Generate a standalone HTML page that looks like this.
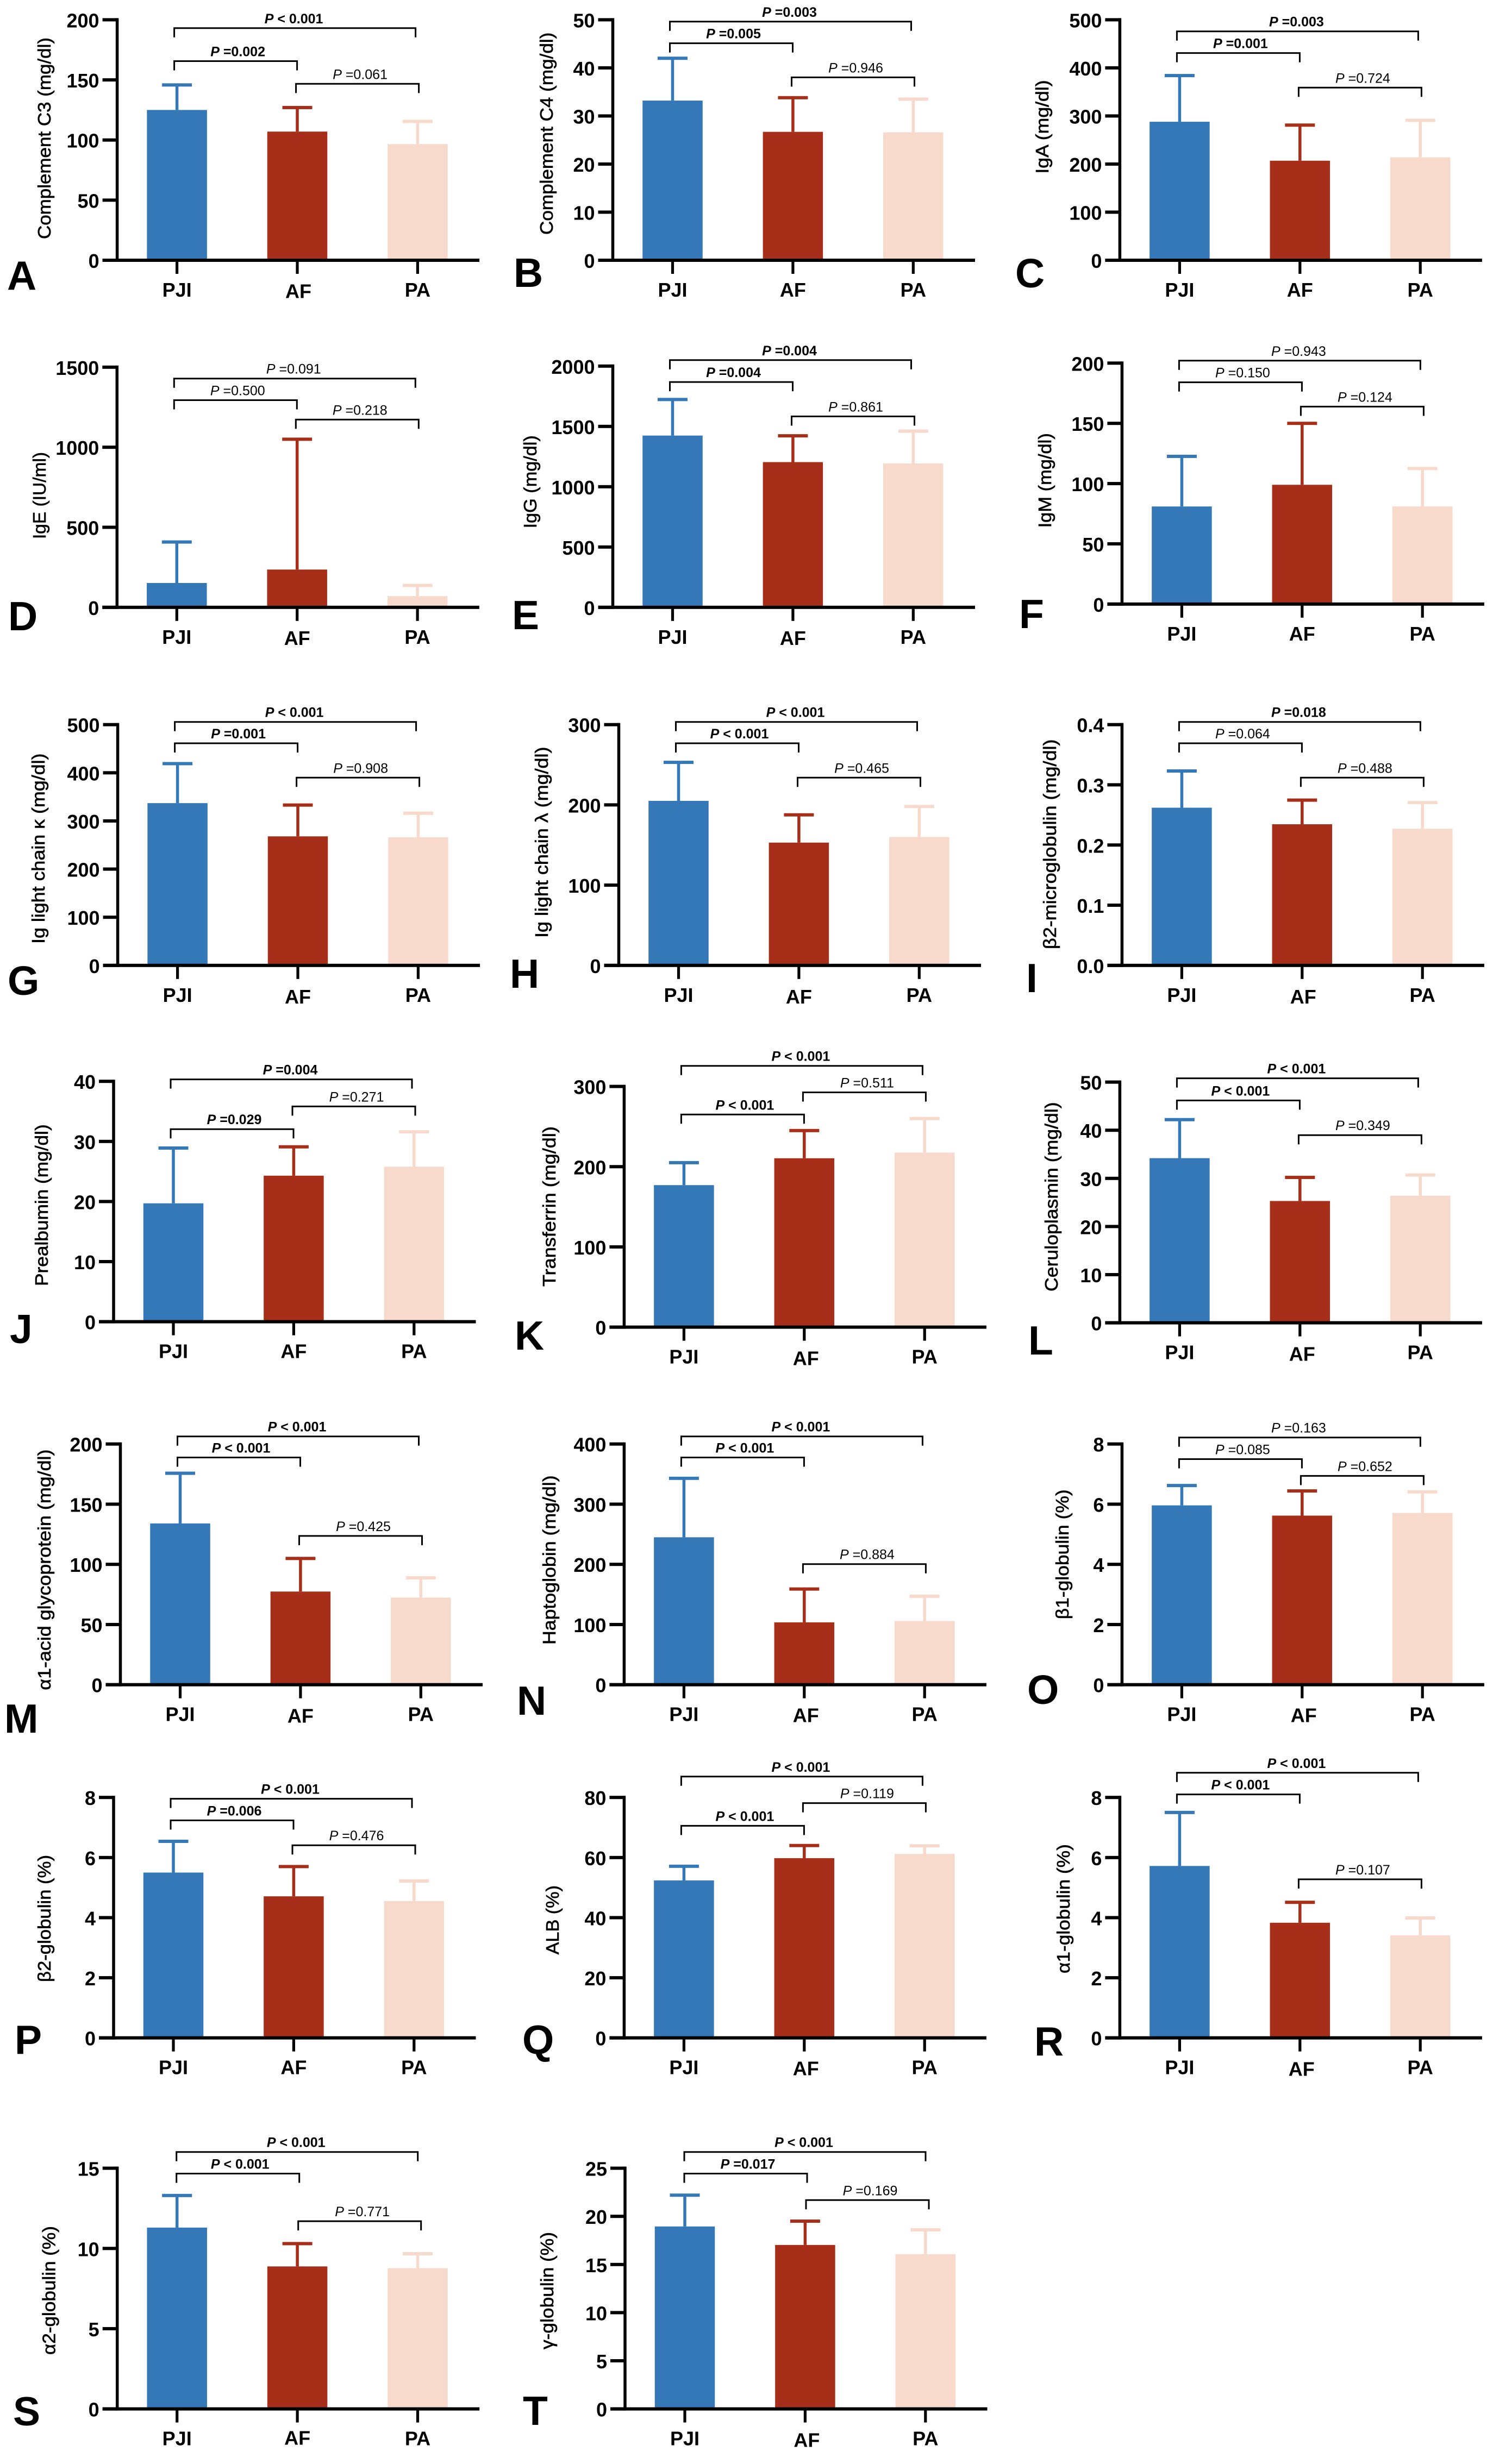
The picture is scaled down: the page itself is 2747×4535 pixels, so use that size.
<!DOCTYPE html>
<html lang="en">
<head>
<meta charset="utf-8">
<title>Serum protein bar charts, panels A to T</title>
<style>
  html, body { margin: 0; padding: 0; background: #fff; }
  svg { display: block; }
  text { font-family: "Liberation Sans", "DejaVu Sans", sans-serif; }
</style>
</head>
<body>
<svg id="figure" xmlns="http://www.w3.org/2000/svg" width="2747" height="4535" viewBox="0 0 2747 4535"></svg>
<script>
/* ---------- data ---------- */
const categories = ['PJI', 'AF', 'PA'];
const panelLetters = ['A','B','C','D','E','F','G','H','I','J','K','L','M','N','O','P','Q','R','S','T'];
const yTitles = [
  'Complement C3 (mg/dl)', 'Complement C4 (mg/dl)', 'IgA (mg/dl)',
  'IgE (IU/ml)', 'IgG (mg/dl)', 'IgM (mg/dl)',
  'Ig light chain κ (mg/dl)', 'Ig light chain λ (mg/dl)', 'β2-microglobulin (mg/dl)',
  'Prealbumin (mg/dl)', 'Transferrin (mg/dl)', 'Ceruloplasmin (mg/dl)',
  'α1-acid glycoprotein (mg/dl)', 'Haptoglobin (mg/dl)', 'β1-globulin (%)',
  'β2-globulin (%)', 'ALB (%)', 'α1-globulin (%)',
  'α2-globulin (%)', 'γ-globulin (%)'
];
const yTickLabels = [
  ['0','50','100','150','200'], ['0','10','20','30','40','50'], ['0','100','200','300','400','500'],
  ['0','500','1000','1500'], ['0','500','1000','1500','2000'], ['0','50','100','150','200'],
  ['0','100','200','300','400','500'], ['0','100','200','300'], ['0.0','0.1','0.2','0.3','0.4'],
  ['0','10','20','30','40'], ['0','100','200','300'], ['0','10','20','30','40','50'],
  ['0','50','100','150','200'], ['0','100','200','300','400'], ['0','2','4','6','8'],
  ['0','2','4','6','8'], ['0','20','40','60','80'], ['0','2','4','6','8'],
  ['0','5','10','15'], ['0','5','10','15','20','25']
];
/* bar heights, one array per group, panels A to T */
const meansPJI = [125, 33.2, 288, 152, 1424, 81, 337, 205, 0.262, 19.7, 177, 34.2, 134, 245, 5.96, 5.5, 52.4, 5.72, 11.3, 18.95];
const meansAF  = [107, 26.7, 207, 236, 1204, 99, 268, 153, 0.2345, 24.3, 210.5, 25.3, 77.4, 103.6, 5.62, 4.71, 59.8, 3.83, 8.88, 17.03];
const meansPA  = [96.6, 26.6, 214, 70, 1193, 81, 266, 160, 0.227, 25.8, 217.5, 26.4, 72.4, 105.8, 5.71, 4.55, 61.2, 3.41, 8.77, 16.07];
/* upper end of each error bar */
const upperPJI = [145.8, 42, 384, 408, 1723, 122.6, 419, 253, 0.323, 28.9, 205, 42.2, 175.7, 343, 6.62, 6.54, 57.1, 7.5, 13.3, 22.2];
const upperAF  = [127, 33.8, 281, 1050, 1422, 150, 333, 187.6, 0.2746, 29.1, 245, 30.2, 104.9, 159, 6.44, 5.7, 64, 4.51, 10.3, 19.5];
const upperPA  = [115.5, 33.5, 291, 137, 1461, 112.5, 316, 198, 0.2705, 31.6, 260, 30.7, 88.8, 147, 6.41, 5.22, 63.9, 3.99, 9.67, 18.6];
/* printed P values: PJI-PA, PJI-AF, AF-PA */
const pOverall = ['< 0.001','=0.003','=0.003','=0.091','=0.004','=0.943','< 0.001','< 0.001','=0.018','=0.004','< 0.001','< 0.001','< 0.001','< 0.001','=0.163','< 0.001','< 0.001','< 0.001','< 0.001','< 0.001'];
const pPjiAf   = ['=0.002','=0.005','=0.001','=0.500','=0.004','=0.150','=0.001','< 0.001','=0.064','=0.029','< 0.001','< 0.001','< 0.001','< 0.001','=0.085','=0.006','< 0.001','< 0.001','< 0.001','=0.017'];
const pAfPa    = ['=0.061','=0.946','=0.724','=0.218','=0.861','=0.124','=0.908','=0.465','=0.488','=0.271','=0.511','=0.349','=0.425','=0.884','=0.652','=0.476','=0.119','=0.107','=0.771','=0.169'];

/* ---------- layout (pixels, not data) ---------- */
const frames = [
  {cx:325.6, top:36.4, base:479},    {cx:1237.5, top:36.4, base:479},   {cx:2170.4, top:36.4, base:479},
  {cx:325.3, top:675.8, base:1117.8},{cx:1237.5, top:673.8, base:1117.8},{cx:2174.4, top:668.3, base:1111.8},
  {cx:326.6, top:1333.7, base:1776.8},{cx:1248.5, top:1333.7, base:1776.8},{cx:2174.4, top:1333.7, base:1776.8},
  {cx:319, top:1990.2, base:2432.6}, {cx:1258.4, top:1999.6, base:2442.6},{cx:2170.4, top:1991.6, base:2434.6},
  {cx:331.5, top:2657.7, base:3100.7},{cx:1258.4, top:2657.7, base:3100.7},{cx:2174.4, top:2657.7, base:3100.7},
  {cx:319, top:3308.2, base:3750.7}, {cx:1258.4, top:3308.2, base:3750.7},{cx:2170.4, top:3308.2, base:3750.7},
  {cx:325.7, top:3990.6, base:4433.6},{cx:1260, top:3990.6, base:4433.6}
];
/* y position of the brackets: overall, PJI-AF, AF-PA */
const bracketRows = [
  [51.8,112.5,154.3],[39.8,79.6,142.4],[57.7,97.6,161.3],
  [696.7,736.5,772.3],[662.8,703.1,766.4],[663.8,703.6,748.4],
  [1328.7,1368,1431.3],[1328.7,1368,1431.3],[1328.7,1368,1431.3],
  [1986.6,2078.2,2036.4],[1961.7,2051.3,2010.5],[1984.6,2025.4,2089.2],
  [2643.7,2682.5,2826.9],[2643.7,2682.5,2878.7],[2645.7,2685.5,2716.4],
  [3310.6,3350.4,3396.2],[3269.8,3360.4,3318.6],[3262.8,3302.6,3458.9],
  [3960.7,4000.5,4088.1],[3960.7,4000.5,4049.3]
];
/* horizontal nudge of each panel's brackets */
const bracketNudge = [0,0,0,0,0,0,0,0,0,0,0,0,0,0,0,0,0,0,4,4];
const letterSpots = [
  [13,533],[945,528],[1868,529],
  [15,1160],[942,1158],[1875,1156],
  [14,1831],[938,1818],[1888,1826],
  [18,2472],[947,2484],[1892,2493],
  [8,3189],[951,3156],[1890,3136],
  [27,3780],[961,3780],[1903,3783],
  [24,4464],[962,4463]
];
/* baseline x, top y and bottom y of each rotated axis title */
const titleSpots = [
  [93,69,440],[1017,59.7,432],[1929,147.4,319.6],
  [84,832,992],[987,801.2,972.4],[1934,797.2,971.4],
  [82,1386.5,1737],[1008,1374.5,1726],[1943,1360.6,1747],
  [88,2069.3,2367],[1022,2073.2,2368],[1946,2028.4,2377],
  [93,2667.6,3110.6],[1022,2715.4,3027],[1966,2741.3,2980.3],
  [93,3414,3648],[1028,3470,3597.4],[1968,3394.2,3632],
  [101.6,4097.1,4334],[1018,4108,4324]
];
/* small offsets of the AF label seen in the figure */
const afLabelDrop = [2.5,0,0,2,2,0,3,3,3,0,3,3,3,2,2,0,2,3,-1,3];
const afLabelShift = [2,0,0,0,0,0,0,0,2,0,3,4,0,3,3,0,3,3,0,3];

const BLUE = '#3478b8', RED = '#a72f19', PEACH = '#f7dacc';
const barColors = [BLUE, RED, PEACH];
const GROUP_STEP = 221.4, BAR_W = 110.5, CAP_W = 55, CAP_H = 6, ERR_W = 5.5, AXIS_GAP = 110;
const NS = 'http://www.w3.org/2000/svg';
const figure = document.getElementById('figure');

function make(tag, attrs, parent) {
  const el = document.createElementNS(NS, tag);
  for (const k in attrs) el.setAttribute(k, attrs[k]);
  parent.appendChild(el);
  return el;
}

/* axis functions */
function yScale(i) {
  const labels = yTickLabels[i];
  const maxV = parseFloat(labels[labels.length - 1]);
  const f = frames[i];
  return function (v) { return f.base - (v / maxV) * (f.base - f.top); };
}
function xScale(i) {
  const f = frames[i];
  return function (k) { return f.cx + k * GROUP_STEP; };
}

function drawPValue(parent, text, bold, x, y, name) {
  const t = make('text', {
    x: x, y: y, 'text-anchor': 'middle', 'font-size': 25,
    'font-weight': bold ? 'bold' : 'normal', fill: '#000'
  }, parent);
  
  
  const p = make('tspan', {'font-style': 'italic'}, t);
  p.textContent = 'P';
  const v = make('tspan', {}, t);
  v.textContent = ' ' + text;
}

function drawBracket(parent, x1, x2, y, text, dx, name) {
  const b = make('path', {
    d: 'M' + x1 + ' ' + (y + 17) + 'V' + y + 'H' + x2 + 'V' + (y + 17),
    fill: 'none', stroke: '#000', 'stroke-width': 3
  }, parent);
  
  
  const num = parseFloat(text.replace(/[^0-9.]/g, ''));
  const bold = num < 0.05;
  drawPValue(parent, text, bold, (x1 + x2) / 2 + dx, y - 9, name + '-p-value');
}

function drawPanel(i) {
  const f = frames[i];
  const ax = f.cx - AXIS_GAP;
  const letter = panelLetters[i];
  const y = yScale(i), x = xScale(i);
  const g = make('g', {}, figure);
  
  

  const means = [meansPJI[i], meansAF[i], meansPA[i]];
  const uppers = [upperPJI[i], upperAF[i], upperPA[i]];

  categories.forEach(function (cat, k) {
    const cx = x(k);
    const bar = make('rect', {
      x: cx - BAR_W / 2, y: y(means[k]), width: BAR_W, height: f.base - y(means[k]), fill: barColors[k]
    }, g);
    
    
    const stem = make('rect', {
      x: cx - ERR_W / 2, y: y(uppers[k]), width: ERR_W, height: y(means[k]) - y(uppers[k]), fill: barColors[k]
    }, g);
    
    
    const cap = make('rect', {
      x: cx - CAP_W / 2, y: y(uppers[k]) - CAP_H / 2, width: CAP_W, height: CAP_H, fill: barColors[k]
    }, g);
    
    
  });

  /* y axis */
  const yAxis = make('rect', {x: ax - 2.75, y: f.top - 3, width: 5.5, height: f.base - f.top + 6, fill: '#000'}, g);
  
  
  yTickLabels[i].forEach(function (lab) {
    const ty = y(parseFloat(lab));
    const tick = make('rect', {x: ax - 27, y: ty - 3, width: 27, height: 6, fill: '#000'}, g);
    
    
    const tl = make('text', {
      x: ax - 33, y: ty + 14, 'text-anchor': 'end', 'font-size': 36, 'font-weight': 'bold', fill: '#000'
    }, g);
    
    
    tl.textContent = lab;
  });

  /* x axis */
  const xAxis = make('rect', {x: ax - 27, y: f.base - 3, width: f.cx + 556.5 - (ax - 27), height: 6, fill: '#000'}, g);
  
  
  categories.forEach(function (cat, k) {
    const cx = x(k);
    const tick = make('rect', {x: cx - 2.6, y: f.base, width: 5.2, height: 25, fill: '#000'}, g);
    
    
    const tl = make('text', {
      x: cx + (k === 1 ? afLabelShift[i] : 0), y: f.base + 67 + (k === 1 ? afLabelDrop[i] : 0), 'text-anchor': 'middle', 'font-size': 36, 'font-weight': 'bold', fill: '#000'
    }, g);
    
    
    tl.textContent = cat;
  });

  /* axis title */
  const ts = titleSpots[i];
  const midY = (ts[1] + ts[2]) / 2;
  const title = make('text', {
    transform: 'translate(' + ts[0] + ' ' + midY + ') rotate(-90)',
    x: 0, y: 0, 'text-anchor': 'middle', 'font-size': 33, fill: '#000',
    stroke: '#000', 'stroke-width': 0.6,
    textLength: ts[2] - ts[1], lengthAdjust: 'spacingAndGlyphs'
  }, g);
  
  
  title.textContent = yTitles[i];

  /* significance brackets */
  const br = bracketRows[i];
  const n = bracketNudge[i];
  drawBracket(g, f.cx - 5 + n, f.cx + 439 + n, br[0], pOverall[i], -2, 'comparison-' + letter + '-pji-pa');
  drawBracket(g, f.cx - 5 + n, f.cx + 221 + n, br[1], pPjiAf[i], 4, 'comparison-' + letter + '-pji-af');
  drawBracket(g, f.cx + 219 + n, f.cx + 445 + n, br[2], pAfPa[i], 5, 'comparison-' + letter + '-af-pa');

  /* panel letter */
  const ls = letterSpots[i];
  const pl = make('text', {x: ls[0], y: ls[1], 'font-size': 75, 'font-weight': 'bold', fill: '#000'}, g);
  
  
  pl.textContent = letter;
}

panelLetters.forEach(function (_, i) { drawPanel(i); });
</script>
</body>
</html>
